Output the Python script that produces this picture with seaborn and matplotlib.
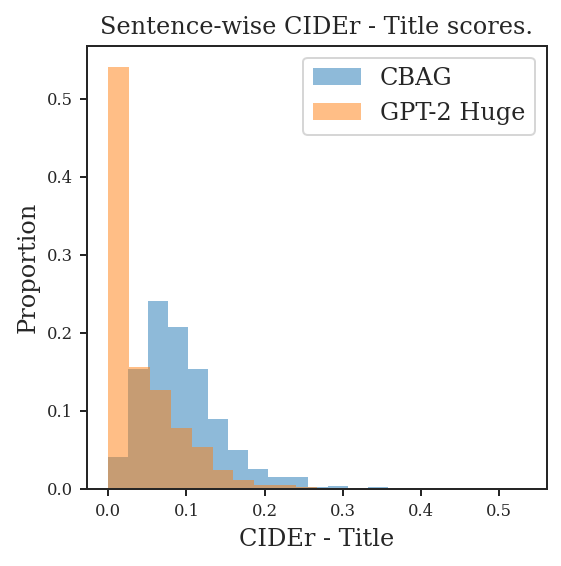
import seaborn as sns
import matplotlib.pyplot as plt
import numpy as np
import pandas as pd

# Proportion per bin (20 bins each, separate ranges)
cbag_max = 0.511
cbag_props = [0.041, 0.153, 0.241, 0.207, 0.153, 0.089, 0.050, 0.025, 0.015, 0.015,
              0.002, 0.004, 0.0005, 0.0026, 0.0003, 0.0003, 0.0002, 0.0002, 0.0001, 0.0002]

gpt2_max = 0.534
gpt2_props = [0.541, 0.156, 0.126, 0.078, 0.053, 0.024, 0.011, 0.0047, 0.0047, 0.002,
              0.0004, 0.0003, 0.0002, 0.0004, 0.0004, 0.0002, 0.0002, 0.0002, 0.0002, 0.0003]

series = [("CBAG", cbag_max, cbag_props, "C0"),
          ("GPT-2 Huge", gpt2_max, gpt2_props, "C1")]

sns.set_style("ticks")
plt.rcParams['font.family'] = ['DejaVu Serif']

fig = plt.figure(figsize=(561 / 144, 566 / 144), dpi=144)
ax = fig.add_axes([0.1556, 0.1366, 0.8189, 0.7827])

for label, vmax, props, color in series:
    edges = np.linspace(0, vmax, len(props) + 1)
    df = pd.DataFrame({"score": (edges[:-1] + edges[1:]) / 2, "prop": props})
    sns.histplot(data=df, x="score", weights="prop", bins=edges.tolist(), stat="count",
                 color=color, alpha=0.5, linewidth=0, label=label, ax=ax)

ax.set_title("Sentence-wise CIDEr - Title scores.", fontsize=12)
ax.set_xlabel("CIDEr - Title", fontsize=12)
ax.set_ylabel("Proportion", fontsize=12)
ax.tick_params(labelsize=8.2, width=1.0, length=3.5)
for s in ax.spines.values():
    s.set_linewidth(1.0)
ax.legend(loc="upper right", fontsize=12)

fig.savefig("out.png", dpi=144)
